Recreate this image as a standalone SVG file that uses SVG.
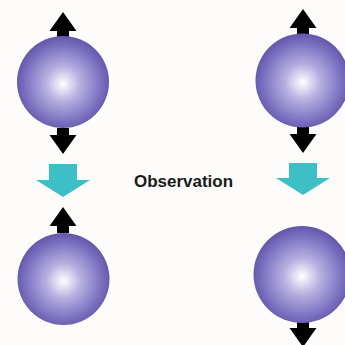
<svg xmlns="http://www.w3.org/2000/svg" width="345" height="345" viewBox="0 0 345 345">
<defs>
<radialGradient id="sph" cx="0.5" cy="0.52" r="0.55" fx="0.5" fy="0.52">
<stop offset="0" stop-color="#ffffff"/>
<stop offset="0.35" stop-color="#b6aee0"/>
<stop offset="0.75" stop-color="#7c71c0"/>
<stop offset="1" stop-color="#5a4ea3"/>
</radialGradient>
<path id="up" d="M-6,0 V-7 H-13.5 L0,-26 L13.5,-7 H6 V0 Z"/>
<path id="dn" d="M-6,0 V7 H-13.5 L0,26 L13.5,7 H6 V0 Z"/>
</defs>
<style>
.sp{fill:url(#sph)}
.blk{fill:#000}
.teal{fill:#3cbfc5}
.lbl{font-family:"Liberation Sans",Arial,sans-serif;font-weight:bold;font-size:16px;fill:#1a1a1a}
</style>
<rect width="345" height="345" fill="#fdfcfb"/>
<g id="connectors">
<use href="#up" class="blk" x="63" y="38"/>
<use href="#dn" class="blk" x="63" y="128"/>
<use href="#up" class="blk" x="63" y="233"/>
<use href="#up" class="blk" x="303" y="35"/>
<use href="#dn" class="blk" x="303" y="127"/>
<use href="#dn" class="blk" x="303" y="321"/>
<path class="teal" d="M49,164 H77 V180 H90 L63,197 L36,180 H49 Z"/>
<path class="teal" d="M289,163 H317 V178 H330 L303,195 L276,178 H289 Z"/>
</g>
<g id="sphere-top-left"><circle class="sp" cx="63" cy="82" r="46"/></g>
<g id="sphere-top-right"><circle class="sp" cx="302.5" cy="80.5" r="47"/></g>
<g id="sphere-bottom-left"><circle class="sp" cx="63.5" cy="279" r="46"/></g>
<g id="sphere-bottom-right"><circle class="sp" cx="302" cy="274.5" r="48.5"/></g>
<g id="label"><text class="lbl" x="134" y="187" textLength="99" lengthAdjust="spacingAndGlyphs">Observation</text></g>
</svg>
